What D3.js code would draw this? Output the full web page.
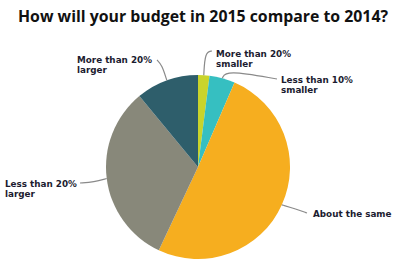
<!DOCTYPE html>
<meta charset="utf-8">
<head>
  <title>Budget 2015 vs 2014</title>
  <script src="https://d3js.org/d3.v7.min.js"></script>
  <style>
    body { margin: 0; background: #fff; }
  </style>
</head>
<body>
<svg width="408" height="270"></svg>
<script>
// answers, clockwise from 12 o'clock
var categories = ["More than 20% smaller", "Less than 10% smaller", "About the same", "Less than 20% larger", "More than 20% larger"];
var shares = [2, 4.5, 50.5, 32, 11];
var labelLines = [["More than 20%", "smaller"], ["Less than 10%", "smaller"], ["About the same"], ["Less than 20%", "larger"], ["More than 20%", "larger"]];
var sliceColors = ["#c9d42b", "#36bfc1", "#f6ae1f", "#88887a", "#2e5e6b"];

// label layout: text anchor (left, first baseline) and bend point of the leader
var labelLayout = [
  {tx: 216, ty: 57, bx: 205, by: 52, ex: 212, ey: 51},
  {tx: 281, ty: 83, bx: 226, by: 70, ex: 277, ey: 79},
  {tx: 313, ty: 217, bx: 296, by: 209, ex: 307, ey: 213},
  {tx: 5, ty: 187, bx: 94, by: 182, ex: 80, ey: 183},
  {tx: 77, ty: 63, bx: 162, by: 65, ex: 157, ey: 60}
];

var svg = d3.select("svg"),
    cx = 198, cy = 167, r = 92;

svg.append("text")
  .attr("x", 203)
  .attr("y", 22)
  .attr("text-anchor", "middle")
  .attr("font-family", "'Open Sans', sans-serif")
  .attr("font-weight", "bold")
  .attr("font-size", 15.5)
  .attr("fill", "#111")
  .attr("textLength", 370)
  .attr("lengthAdjust", "spacingAndGlyphs")
  .text("How will your budget in 2015 compare to 2014?");

var data = categories.map(function(c, i) { return {name: c, value: shares[i], i: i}; });

var pie = d3.pie().sort(null).value(function(d) { return d.value; });
var arc = d3.arc().innerRadius(0).outerRadius(r);
var arcs = pie(data);

var g = svg.append("g").attr("transform", "translate(" + cx + "," + cy + ")");

g.selectAll("path.slice")
  .data(arcs)
  .enter().append("path")
  .attr("class", "slice")
  .attr("d", arc)
  .attr("fill", function(d) { return sliceColors[d.data.i]; });

// leader lines
var line = d3.line().curve(d3.curveBasis);
svg.selectAll("path.leader")
  .data(arcs)
  .enter().append("path")
  .attr("class", "leader")
  .attr("fill", "none")
  .attr("stroke", "#8a8a8a")
  .attr("stroke-width", 1.2)
  .attr("d", function(d) {
    var a = (d.startAngle + d.endAngle) / 2,
        L = labelLayout[d.data.i];
    var p0 = [cx + Math.sin(a) * r, cy - Math.cos(a) * r];
    return line([p0, [L.bx, L.by], [L.ex, L.ey]]);
  });

var labels = svg.selectAll("text.lab")
  .data(arcs)
  .enter().append("text")
  .attr("class", "lab")
  .attr("font-family", "'DejaVu Sans', sans-serif")
  .attr("font-weight", "bold")
  .attr("font-size", 8.8)
  .attr("fill", "#1c1c30")
  .attr("x", function(d) { return labelLayout[d.data.i].tx; })
  .attr("y", function(d) { return labelLayout[d.data.i].ty; });

labels.selectAll("tspan")
  .data(function(d) {
    return labelLines[d.data.i].map(function(t) { return {t: t, x: labelLayout[d.data.i].tx}; });
  })
  .enter().append("tspan")
  .attr("x", function(d) { return d.x; })
  .attr("dy", function(d, j) { return j === 0 ? 0 : 9.8; })
  .text(function(d) { return d.t; });
</script>
</body>
